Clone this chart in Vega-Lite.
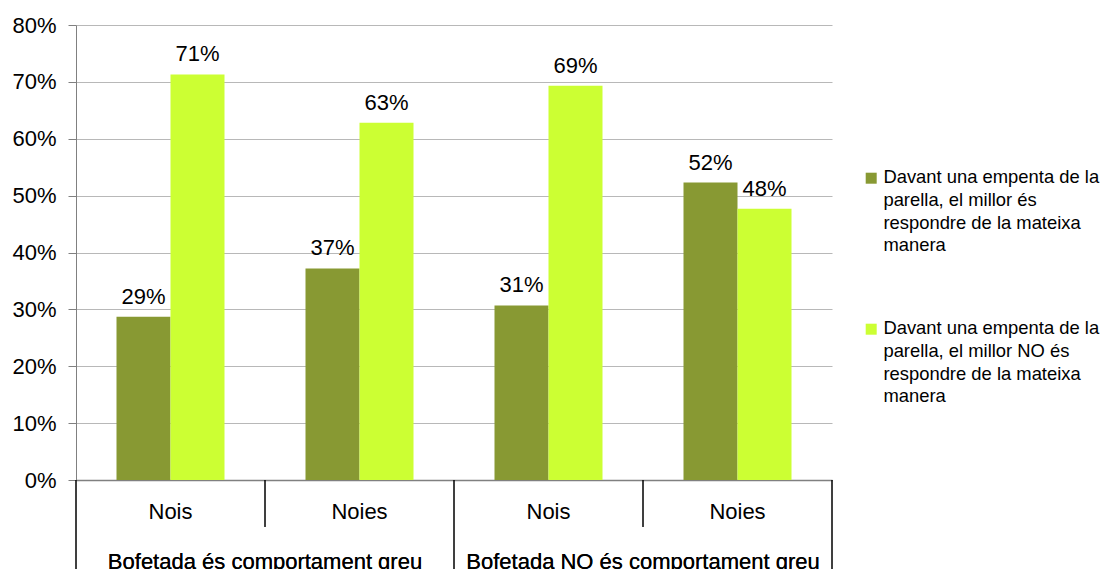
{
  "$schema": "https://vega.github.io/schema/vega-lite/v6.json",
  "autosize": {"type": "none"},
  "padding": {"left": 76, "top": 25, "right": 270, "bottom": 89},
  "width": 756,
  "height": 455,
  "background": "white",
  "config": {
    "font": "Liberation Sans",
    "view": {"stroke": null}
  },
  "data": {
    "values": [
      {"group": "Bofetada és comportament greu", "sex": "Nois", "cat": "Bofetada és comportament greu|Nois", "series": "Davant una empenta de la parella, el millor és respondre de la mateixa manera", "value": 0.287},
      {"group": "Bofetada és comportament greu", "sex": "Nois", "cat": "Bofetada és comportament greu|Nois", "series": "Davant una empenta de la parella, el millor NO és respondre de la mateixa manera", "value": 0.713},
      {"group": "Bofetada és comportament greu", "sex": "Noies", "cat": "Bofetada és comportament greu|Noies", "series": "Davant una empenta de la parella, el millor és respondre de la mateixa manera", "value": 0.372},
      {"group": "Bofetada és comportament greu", "sex": "Noies", "cat": "Bofetada és comportament greu|Noies", "series": "Davant una empenta de la parella, el millor NO és respondre de la mateixa manera", "value": 0.628},
      {"group": "Bofetada NO és comportament greu", "sex": "Nois", "cat": "Bofetada NO és comportament greu|Nois", "series": "Davant una empenta de la parella, el millor és respondre de la mateixa manera", "value": 0.307},
      {"group": "Bofetada NO és comportament greu", "sex": "Nois", "cat": "Bofetada NO és comportament greu|Nois", "series": "Davant una empenta de la parella, el millor NO és respondre de la mateixa manera", "value": 0.693},
      {"group": "Bofetada NO és comportament greu", "sex": "Noies", "cat": "Bofetada NO és comportament greu|Noies", "series": "Davant una empenta de la parella, el millor és respondre de la mateixa manera", "value": 0.523},
      {"group": "Bofetada NO és comportament greu", "sex": "Noies", "cat": "Bofetada NO és comportament greu|Noies", "series": "Davant una empenta de la parella, el millor NO és respondre de la mateixa manera", "value": 0.477}
    ]
  },
  "encoding": {
    "x": {
      "field": "cat",
      "type": "nominal",
      "sort": null,
      "scale": {"paddingInner": 0, "paddingOuter": 0},
      "axis": {
        "title": null,
        "labelExpr": "split(datum.label, '|')[1]",
        "labelAngle": 0,
        "labelFontSize": 22,
        "labelColor": "black",
        "labelPadding": 21,
        "labelBaseline": "top",
        "ticks": false,
        "tickSize": 0,
        "domainColor": "#808080",
        "domainWidth": 1.5
      }
    }
  },
  "layer": [
    {
      "mark": {"type": "bar"},
      "encoding": {
        "xOffset": {
          "field": "series",
          "type": "nominal",
          "sort": null,
          "scale": {"paddingInner": 0, "paddingOuter": 0.75}
        },
        "y": {
          "field": "value",
          "type": "quantitative",
          "scale": {"domain": [0, 0.8], "nice": false, "zero": true},
          "axis": {
            "title": null,
            "format": ".0%",
            "values": [0, 0.1, 0.2, 0.3, 0.4, 0.5, 0.6, 0.7, 0.8],
            "labelFontSize": 22,
            "labelColor": "black",
            "labelPadding": 12,
            "tickSize": 8,
            "tickColor": "#808080",
            "domainColor": "#808080",
            "gridColor": "#b8b8b8",
            "gridWidth": 1
          }
        },
        "color": {
          "field": "series",
          "type": "nominal",
          "sort": null,
          "scale": {"range": ["#889933", "#CCFF33"]},
          "legend": {
            "title": null,
            "orient": "none",
            "legendX": 786,
            "legendY": 144,
            "padding": 0,
            "symbolType": "square",
            "symbolSize": 121,
            "symbolStrokeWidth": 0,
            "symbolOpacity": 1,
            "labelFontSize": 18.4,
            "labelColor": "black",
            "labelLimit": 400,
            "labelOffset": 3,
            "labelBaseline": "top",
            "rowPadding": 64,
            "encode": {"labels": {"update": {"lineHeight": {"value": 22.7}, "dy": {"value": -10}}}},
            "labelExpr": "indexof(datum.label, ' NO ') >= 0 ? ['Davant una empenta de la', 'parella, el millor NO és', 'respondre de la mateixa', 'manera'] : ['Davant una empenta de la', 'parella, el millor és', 'respondre de la mateixa', 'manera']"
          }
        }
      }
    },
    {
      "mark": {"type": "text", "fontSize": 22, "color": "black", "baseline": "alphabetic", "dy": -13},
      "encoding": {
        "xOffset": {"field": "series", "type": "nominal", "sort": null},
        "y": {"field": "value", "type": "quantitative"},
        "text": {"field": "value", "type": "quantitative", "format": ".0%"}
      }
    },
    {
      "transform": [{"filter": "datum.sex == 'Nois'"}],
      "mark": {"type": "rule", "color": "black", "strokeWidth": 1},
      "encoding": {
        "x": {"field": "cat", "type": "nominal", "sort": null, "bandPosition": 0},
        "y": {"datum": 0},
        "y2": {"datum": -0.2}
      }
    },
    {
      "transform": [{"filter": "datum.sex == 'Noies'"}],
      "mark": {"type": "rule", "color": "black", "strokeWidth": 1},
      "encoding": {
        "x": {"field": "cat", "type": "nominal", "sort": null, "bandPosition": 0},
        "y": {"datum": 0},
        "y2": {"datum": -0.0826}
      }
    },
    {
      "transform": [{"filter": "datum.cat == 'Bofetada NO és comportament greu|Noies'"}],
      "mark": {"type": "rule", "color": "black", "strokeWidth": 1},
      "encoding": {
        "x": {"field": "cat", "type": "nominal", "sort": null, "bandPosition": 1},
        "y": {"datum": 0},
        "y2": {"datum": -0.2}
      }
    },
    {
      "transform": [{"filter": "datum.sex == 'Noies'"}],
      "mark": {"type": "text", "fontSize": 22, "color": "black", "baseline": "alphabetic"},
      "encoding": {
        "x": {"field": "cat", "type": "nominal", "sort": null, "bandPosition": 0},
        "y": {"datum": -0.1565},
        "text": {"field": "group", "type": "nominal"}
      }
    }
  ]
}
